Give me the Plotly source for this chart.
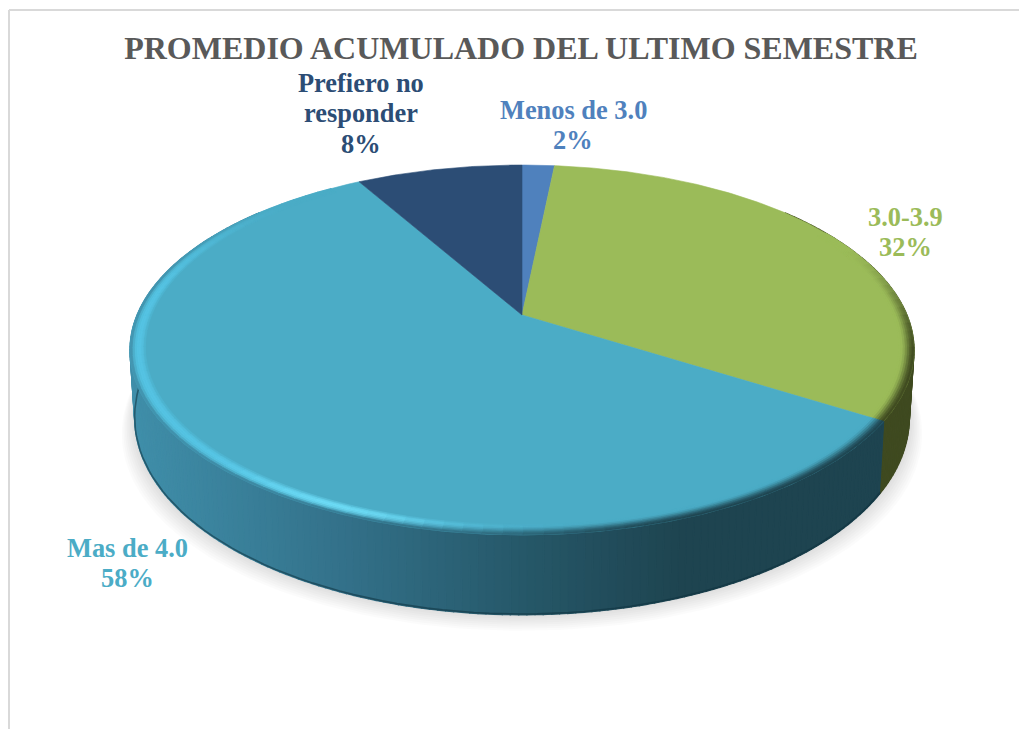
import numpy as np
import plotly.graph_objects as go

# ---- data ----
categories = ["Menos de 3.0", "3.0-3.9", "Mas de 4.0", "Prefiero no<br>responder"]
values = [1.6, 32.4, 57.8, 8.2]
title_text = "PROMEDIO ACUMULADO DEL ULTIMO SEMESTRE"

top_colors = ["#4f81bd", "#9bbb59", "#4bacc6", "#2c4d75"]
label_colors = ["#4f81bd", "#9bbb59", "#4bacc6", "#2c4d75"]
label_xy = [(573, 125), (905, 232), (127, 563), (361, 113)]
LINE_STEP = 30.5

# ---- projection of the tilted disc onto the page ----
CX, CY = 522.0, 315.0
A, B, K = 385.0, 178.3, 0.189
WALL_X = [130, 330, 520, 680, 920]
WALL_RGB = np.array([[64, 143, 170], [52, 115, 140], [38, 88, 105], [30, 68, 80], [30, 68, 80]], float)


def proj(theta_deg, r=1.0):
    th = np.radians(theta_deg)
    s, c = r * np.sin(th), r * np.cos(th)
    d = 1 + K * c
    return CX + A * s / d, CY - B * c / d


def bottom(theta_deg):
    x, y = proj(theta_deg)
    c = np.cos(np.radians(theta_deg))
    return CX + (x - CX) * 0.988, y + 65 - 15 * c


def hex_rgb(h):
    return np.array([int(h[i:i + 2], 16) for i in (1, 3, 5)], float)


def css(c):
    c = np.clip(np.round(c), 0, 255).astype(int)
    return f"rgb({c[0]},{c[1]},{c[2]})"


def sstep(e0, e1, v):
    t = np.clip((v - e0) / (e1 - e0), 0, 1)
    return t * t * (3 - 2 * t)


def wall_color(i, x):
    if i == 1:
        return np.array([63.0, 74.0, 32.0])
    return np.array([np.interp(x, WALL_X, WALL_RGB[:, k]) for k in range(3)])


def poly(fig, xs, ys, color, line=0.8):
    fig.add_trace(go.Scatter(x=list(xs), y=list(ys), mode="lines", fill="toself",
                             fillcolor=color, line=dict(color=color, width=line),
                             hoverinfo="skip", showlegend=False))


fig = go.Figure()

edges = np.concatenate([[0], np.cumsum(values)]) / np.sum(values) * 360.0

# soft shadow
full = np.linspace(0, 360, 241)
bx, by = bottom(full)
for e in np.linspace(16, 2, 8):
    sx = CX + (bx - CX) * (1 + e * 0.8 / 385)
    sy = by + e
    poly(fig, sx, sy, "rgba(0,0,0,0.017)", line=0)

# side wall: one underlay per slice, then narrow shaded strips
for i in range(len(values)):
    a0, a1 = max(edges[i], 50), min(edges[i + 1], 310)
    if a1 <= a0:
        continue
    grid = np.arange(a0, a1 + 1e-6, 1.0)
    if grid[-1] < a1:
        grid = np.append(grid, a1)
    x0, y0 = proj(grid)
    x1, y1 = bottom(grid)
    poly(fig, np.r_[x0, x1[::-1], x0[0]], np.r_[y0, y1[::-1], y0[0]],
         css(wall_color(i, float(x0.mean()))), line=0)
    for k in range(len(grid) - 1):
        col = css(wall_color(i, (x0[k] + x0[k + 1] + x1[k] + x1[k + 1]) / 4))
        poly(fig, [x0[k], x0[k + 1], x1[k + 1], x1[k], x0[k]],
             [y0[k], y0[k + 1], y1[k + 1], y1[k], y0[k]], col, line=1.2)

# dark lower edge of the wall
front = np.linspace(122, 275, 80)
ex, ey = bottom(front)
fig.add_trace(go.Scatter(x=ex, y=ey - 0.8, mode="lines", line=dict(color="rgba(15,50,62,0.55)", width=1.6),
                         hoverinfo="skip", showlegend=False))

# top face
for i in range(len(values)):
    arc = np.linspace(edges[i], edges[i + 1], max(4, int((edges[i + 1] - edges[i]) * 2)))
    ax, ay = proj(arc)
    poly(fig, np.r_[CX, ax, CX], np.r_[CY, ay, CY], top_colors[i], line=0.6)

# bevel round the rim
RINGS = np.linspace(0.962, 1.0, 8)
H_BASE = np.array([85, 196, 228.0])
H_PEAK = np.array([112, 224, 250.0])
for i in range(len(values)):
    a0, a1 = max(edges[i], 60), min(edges[i + 1], 325)
    if a1 <= a0:
        continue
    T = hex_rgb(top_colors[i])
    grid = np.arange(a0, a1 + 1e-6, 2.5)
    if grid[-1] < a1:
        grid = np.append(grid, a1)
    for g0, g1 in zip(grid[:-1], grid[1:]):
        m = (g0 + g1) / 2
        hs = sstep(172, 200, m) * sstep(318, 275, m)
        ds = sstep(65, 105, m) * sstep(218, 165, m)
        H = H_BASE + (H_PEAK - H_BASE) * np.exp(-((m - 203) / 14) ** 2)
        for j, (r0, r1) in enumerate(zip(RINGS[:-1], RINGS[1:])):
            t = (j + 0.5) / (len(RINGS) - 1)
            x0, y0 = proj(np.array([g0, g1]), r0)
            x1, y1 = proj(np.array([g0, g1]), r1)
            W = wall_color(i, (x0.mean() + x1.mean()) / 2)
            bump = np.sin(np.pi * min(t / 0.85, 1.0)) ** 0.8
            c = T + (H - T) * hs * bump
            c = c + (W - c) * ds * sstep(0.15, 1.0, t)
            c = c + (W - c) * hs * sstep(0.72, 1.0, t) * 0.9
            poly(fig, [x0[0], x0[1], x1[1], x1[0], x0[0]], [y0[0], y0[1], y1[1], y1[0], y0[0]], css(c), line=0.7)

# labels: each line placed on its own so the leading matches the picture
total = sum(values)
annotations = []
for name, v, col, (lx, ly) in zip(categories, values, label_colors, label_xy):
    lines = name.split("<br>") + [f"{round(v / total * 100):d}%"]
    top = ly - LINE_STEP * (len(lines) - 1) / 2
    for n, line in enumerate(lines):
        annotations.append(dict(x=lx, y=top + n * LINE_STEP, xref="x", yref="y", showarrow=False,
                                align="center", text=line,
                                font=dict(family="Liberation Serif", size=26.4, color=col, weight="bold")))

fig.update_layout(
    width=1019, height=729, margin=dict(l=0, r=0, t=0, b=0),
    paper_bgcolor="white", plot_bgcolor="white", showlegend=False,
    title=dict(text=title_text, x=521 / 1019, xanchor="center", y=1 - 48 / 729, yanchor="middle",
               font=dict(family="Liberation Serif", size=32, color="#595959", weight="bold")),
    xaxis=dict(range=[0, 1019], visible=False, fixedrange=True),
    yaxis=dict(range=[729, 0], visible=False, fixedrange=True),
    annotations=annotations,
    shapes=[
        dict(type="line", xref="x", yref="y", x0=9, x1=9, y0=10, y1=729, line=dict(color="#d9d9d9", width=2)),
        dict(type="line", xref="x", yref="y", x0=9, x1=1019, y0=10, y1=10, line=dict(color="#d9d9d9", width=2)),
    ],
)

fig.write_html("out.html", config={"displayModeBar": False},
               post_script="document.body.style.margin='0';document.documentElement.style.overflow='hidden';")
